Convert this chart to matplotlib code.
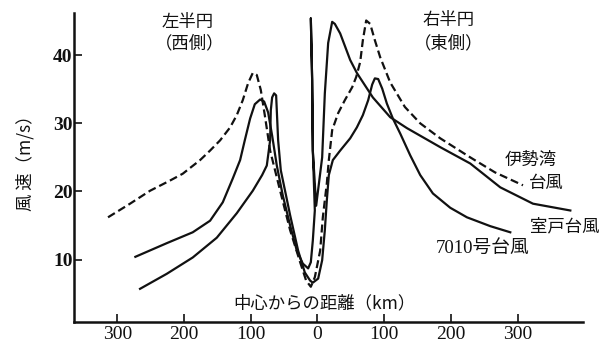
import numpy as np
import matplotlib
matplotlib.use("Agg")
import matplotlib.pyplot as plt

plt.rcParams['font.family'] = ['Noto Sans CJK JP', 'DejaVu Sans']

# distance from centre (km, west side negative) and wind speed (m/s)
ise_km = [-314, -281, -251, -221, -202, -176, -161, -146, -131, -121, -112, -104,
          -97, -91, -85, -79, -71, -56, -41, -26, -17, -10,
          -4, 4, 8, 14, 17, 22, 31, 41, 52, 58, 64, 68, 73, 79, 86, 94,
          109, 131, 154, 184, 229, 266, 308]
ise_ms = [16.2, 18.2, 20.1, 21.6, 22.6, 24.6, 26.0, 27.5, 29.4, 31.2, 33.4, 35.9,
          37.4, 37.1, 34.9, 31.2, 26.0, 20.1, 14.3, 9.6, 6.9, 6.0,
          7.4, 11.3, 16.2, 21.2, 24.6, 29.0, 31.5, 33.4, 35.3, 36.8, 39.0, 42.2,
          45.1, 44.6, 42.2, 39.7, 36.0, 32.4, 30.0, 27.8, 25.0, 22.8, 20.9]

muroto_km = [-273, -226, -187, -161, -142, -127, -116, -109, -101, -94, -86, -80,
             -74, -68, -61, -52, -41, -31, -22, -14,
             -10, -7, -4, -7, -8, -10, -8, -7, -2,
             7, 11, 16, 22, 26, 34, 49, 59, 83, 109, 134, 184, 229, 274, 323, 379]
muroto_ms = [10.4, 12.4, 14.0, 15.7, 18.4, 21.9, 24.6, 27.5, 30.7, 32.8, 33.5, 33.2,
             31.6, 28.2, 23.8, 19.4, 15.0, 11.3, 9.4, 8.7,
             9.6, 12.8, 17.2, 26.0, 36.3, 45.4, 36.3, 26.0, 17.9,
             25.0, 34.4, 41.8, 44.9, 44.6, 43.2, 39.3, 37.4, 33.8, 30.9, 29.3,
             26.5, 24.1, 20.6, 18.2, 17.2]

t7010_km = [-266, -226, -187, -151, -121, -97, -83, -76, -71, -70, -68, -65, -62,
            -61, -59, -55, -41, -29, -19, -11, -7,
            1, 7, 11, 14, 17, 23, 34, 49, 59, 68, 76, 82, 86, 91, 97, 104, 113,
            124, 139, 154, 173, 199, 224, 259, 289]
t7010_ms = [5.7, 7.9, 10.3, 13.2, 16.8, 20.1, 22.4, 23.8, 27.5, 31.9, 33.8, 34.4,
            34.1, 31.9, 27.5, 23.1, 16.5, 11.3, 8.1, 6.9, 6.6,
            7.2, 9.9, 14.3, 18.7, 22.4, 24.6, 26.0, 27.8, 29.4, 31.2, 33.4, 35.7,
            36.6, 36.5, 35.1, 32.9, 30.7, 28.5, 25.3, 22.4, 19.7, 17.6, 16.2,
            14.9, 14.0]

xticks = [-300, -200, -100, 0, 100, 200, 300]
xtick_labels = ["300", "200", "100", "0", "100", "200", "300"]
yticks = [10, 20, 30, 40]

ink = "#111111"

fig = plt.figure(figsize=(6.07, 3.47), dpi=100)
ax = fig.add_axes([74 / 607, 1 - 321.5 / 347, 509 / 607, 308.5 / 347])

ax.plot(ise_km, ise_ms, color=ink, lw=1.6, ls=(0, (3.6, 1.8)),
        solid_joinstyle="round")
ax.plot(muroto_km, muroto_ms, color=ink, lw=1.6, solid_joinstyle="round")
ax.plot(t7010_km, t7010_ms, color=ink, lw=1.6, solid_joinstyle="round")

ax.set_xlim(-365, 398)
ax.set_ylim(0.9, 46.2)
ax.set_xticks(xticks)
ax.set_xticklabels(xtick_labels, family="Liberation Serif", fontsize=14)
ax.set_yticks(yticks)
ax.set_yticklabels([str(v) for v in yticks], family="Liberation Serif",
                   fontsize=14, fontweight="bold")
ax.tick_params(direction="in", length=6, width=1.2, colors=ink, pad=3)
ax.tick_params(axis="y", pad=1)
for side in ["top", "right"]:
    ax.spines[side].set_visible(False)
for side in ["left", "bottom"]:
    ax.spines[side].set_linewidth(1.8)
    ax.spines[side].set_color(ink)

ax.text(-194, 44.9, "左半円", ha="center", va="center", fontsize=12.5, color=ink)
ax.text(-191, 41.8, "（西側）", ha="center", va="center", fontsize=12.5, color=ink)
ax.text(197, 45.1, "右半円", ha="center", va="center", fontsize=12.5, color=ink)
ax.text(197, 41.8, "（東側）", ha="center", va="center", fontsize=12.5, color=ink)
ax.text(319, 24.6, "伊勢湾", ha="center", va="center", fontsize=12.5, color=ink)
ax.text(343, 21.2, "台風", ha="center", va="center", fontsize=12.5, color=ink)
ax.text(371, 14.9, "室戸台風", ha="center", va="center", fontsize=12.5, color=ink)
ax.text(248, 11.6, "7010号台風", ha="center", va="center", fontsize=13.5,
        color=ink, family=["Liberation Serif", "Noto Sans CJK JP"])
ax.text(10, 3.5, "中心からの距離（km）", ha="center", va="center",
        fontsize=12.5, color=ink)

fig.text(25 / 607, 1 - 159 / 347, "風 速（m/s）", rotation=90,
         ha="center", va="center", fontsize=12.5, color=ink)

fig.savefig("out.png", dpi=100)
